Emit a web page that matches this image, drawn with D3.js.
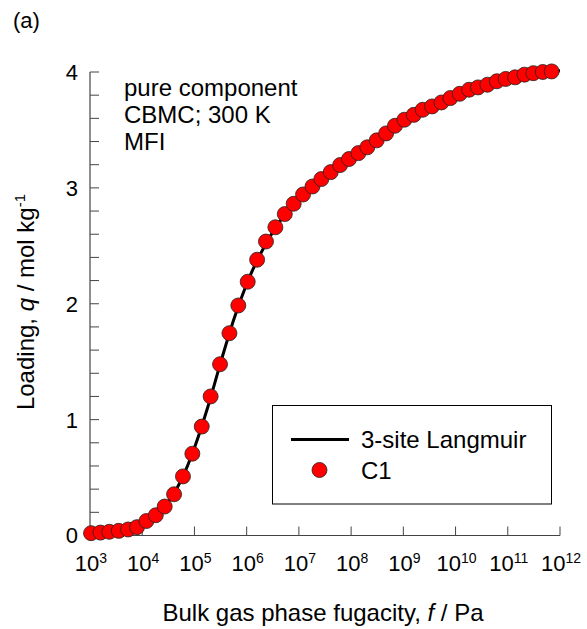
<!DOCTYPE html>
<html>
<head>
<meta charset="utf-8">
<script src="https://cdn.jsdelivr.net/npm/d3@7"></script>
<style>
  body { margin: 0; background: #fff; }
  svg text { font-family: Arial, "Liberation Sans", sans-serif; fill: #000; }
</style>
</head>
<body>
<svg id="chart" width="587" height="629"></svg>
<script>
// C1 (CBMC) data points: log10 of fugacity / Pa, and loading / mol kg-1
var c1Exp = [3.02, 3.20, 3.37, 3.55, 3.73, 3.90, 4.08, 4.26, 4.43, 4.61,
             4.78, 4.96, 5.14, 5.31, 5.49, 5.67, 5.84, 6.02, 6.20, 6.37,
             6.55, 6.73, 6.90, 7.08, 7.26, 7.43, 7.61, 7.79, 7.96, 8.14,
             8.31, 8.49, 8.67, 8.84, 9.02, 9.20, 9.37, 9.55, 9.73, 9.90,
             10.08, 10.26, 10.43, 10.61, 10.79, 10.96, 11.14, 11.32, 11.49, 11.67,
             11.84];
var c1Q = [0.02, 0.025, 0.032, 0.04, 0.052, 0.072, 0.125, 0.175, 0.25, 0.356,
           0.51, 0.706, 0.94, 1.20, 1.478, 1.746, 1.985, 2.19, 2.38, 2.537,
           2.66, 2.774, 2.863, 2.943, 3.012, 3.076, 3.136, 3.197, 3.249, 3.30,
           3.35, 3.41, 3.47, 3.536, 3.588, 3.63, 3.674, 3.703, 3.737, 3.775,
           3.812, 3.847, 3.867, 3.89, 3.92, 3.94, 3.954, 3.977, 3.99, 4.0,
           4.005];

// 3-site Langmuir fit
var fitExp = [3.0, 3.5, 4.0, 4.25, 4.5, 4.75, 5.0, 5.25, 5.5, 5.75, 6.0,
              6.5, 7.0, 7.5, 8.0, 8.5, 9.0, 9.5, 10.0, 10.5, 11.0, 11.5, 12.0];
var fitQ = [0.019, 0.037, 0.097, 0.173, 0.29, 0.48, 0.757, 1.10, 1.49, 1.86, 2.17,
            2.62, 2.91, 3.10, 3.26, 3.41, 3.58, 3.695, 3.795, 3.875, 3.945, 3.99, 4.01];

var xTickExp = [3, 4, 5, 6, 7, 8, 9, 10, 11, 12];
var yTicks = [0, 1, 2, 3, 4];
var noteLines = ["pure component", "CBMC; 300 K", "MFI"];
var legendNames = ["3-site Langmuir", "C1"];

var svg = d3.select("#chart");
var x = d3.scaleLog().domain([1e3, 1e12]).range([90, 560]);
var y = d3.scaleLinear().domain([0, 4]).range([535.5, 72]);
var axisColor = "#444";

// x axis
var xAxis = svg.append("g").attr("transform", "translate(0," + y(0) + ")");
xAxis.append("line").attr("x1", x(1e3)).attr("x2", x(1e12))
  .attr("stroke", axisColor).attr("stroke-width", 1.2);
xTickExp.forEach(function(e) {
  var px = x(Math.pow(10, e));
  xAxis.append("line").attr("x1", px).attr("x2", px).attr("y1", 0).attr("y2", -9)
    .attr("stroke", axisColor).attr("stroke-width", 1);
  var t = xAxis.append("text").attr("y", 35).style("font-size", "22px");
  t.append("tspan").text("10");
  t.append("tspan").attr("dy", -8).style("font-size", "14px").text(e);
  // centre whole label on tick
  var w = t.node().getComputedTextLength();
  t.attr("x", px - w / 2 + 1);
});

// y axis
var yAxis = svg.append("g").attr("transform", "translate(" + x(1e3) + ",0)");
yAxis.append("line").attr("y1", y(0)).attr("y2", y(4))
  .attr("stroke", axisColor).attr("stroke-width", 1.2);
d3.range(0, 4.001, 0.2).forEach(function(v) {
  yAxis.append("line").attr("x1", 0).attr("x2", 9).attr("y1", y(v)).attr("y2", y(v))
    .attr("stroke", axisColor).attr("stroke-width", 1);
});
yAxis.selectAll("text.tick").data(yTicks).enter().append("text")
  .attr("class", "tick")
  .attr("x", -12).attr("y", function(d) { return y(d); }).attr("dy", "0.36em")
  .attr("text-anchor", "end").style("font-size", "22px")
  .text(function(d) { return d; });

// axis titles
var xt = svg.append("text").attr("x", 323).attr("y", 621).attr("text-anchor", "middle")
  .style("font-size", "24px");
xt.append("tspan").text("Bulk gas phase fugacity, ");
xt.append("tspan").style("font-style", "italic").text("f");
xt.append("tspan").text(" / Pa");

var yt = svg.append("text").attr("transform", "translate(34,302) rotate(-90)")
  .attr("text-anchor", "middle").style("font-size", "24px");
yt.append("tspan").text("Loading, ");
yt.append("tspan").style("font-style", "italic").text("q");
yt.append("tspan").text(" / mol kg");
yt.append("tspan").attr("dy", -9).style("font-size", "15px").text("-1");

// fit line
var line = d3.line()
  .x(function(d) { return x(Math.pow(10, d[0])); })
  .y(function(d) { return y(d[1]); })
  .curve(d3.curveMonotoneX);
svg.append("path").datum(d3.zip(fitExp, fitQ))
  .attr("d", line).attr("fill", "none").attr("stroke", "#000").attr("stroke-width", 3);

// C1 points
svg.selectAll("circle.pt").data(d3.zip(c1Exp, c1Q)).enter().append("circle")
  .attr("class", "pt")
  .attr("cx", function(d) { return x(Math.pow(10, d[0])); })
  .attr("cy", function(d) { return y(d[1]); })
  .attr("r", 7.5)
  .attr("fill", "#ff0000").attr("stroke", "#222").attr("stroke-width", 0.8);

// annotation
svg.selectAll("text.note").data(noteLines).enter().append("text")
  .attr("class", "note").attr("x", 124)
  .attr("y", function(d, i) { return 96 + i * 27; })
  .style("font-size", "24px").text(function(d) { return d; });

svg.append("text").attr("x", 13).attr("y", 28).style("font-size", "22px").text("(a)");

// legend
var lg = svg.append("g");
lg.append("rect").attr("x", 272.5).attr("y", 405.5).attr("width", 279).attr("height", 98.5)
  .attr("fill", "#fff").attr("stroke", "#000").attr("stroke-width", 1);
lg.append("line").attr("x1", 291).attr("x2", 349).attr("y1", 439.5).attr("y2", 439.5)
  .attr("stroke", "#000").attr("stroke-width", 3);
lg.append("circle").attr("cx", 319.5).attr("cy", 470).attr("r", 7.5)
  .attr("fill", "#ff0000").attr("stroke", "#222").attr("stroke-width", 0.8);
lg.selectAll("text").data(legendNames).enter().append("text")
  .attr("x", 361).attr("y", function(d, i) { return 448 + i * 31; })
  .style("font-size", "24px").text(function(d) { return d; });
</script>
</body>
</html>
